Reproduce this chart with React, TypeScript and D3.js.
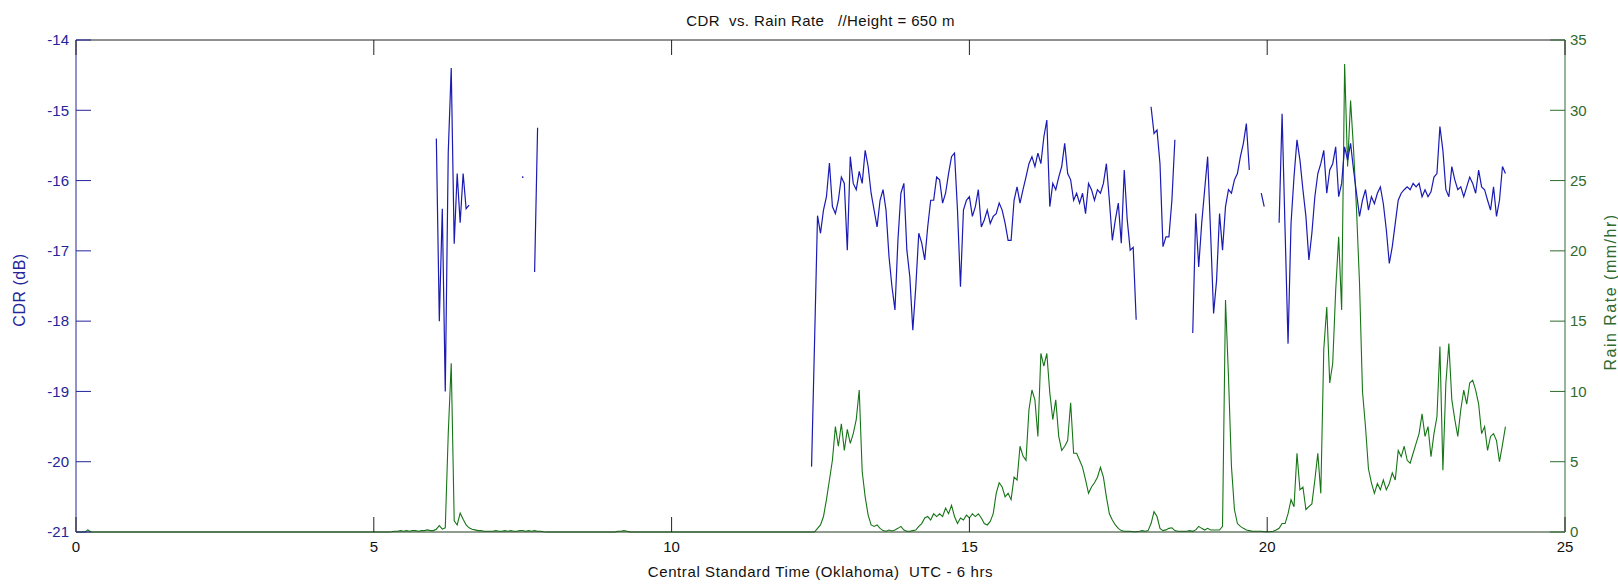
import React from "react";
import * as d3 from "d3";

// ---- data ----
const TIME_STEP = 0.05; // hours between samples
const CDR_START = 6.0;
const RAIN_START = 0.0;

const xTicks = [0, 5, 10, 15, 20, 25];
const cdrTicks = [-21, -20, -19, -18, -17, -16, -15, -14];
const rainTicks = [0, 5, 10, 15, 20, 25, 30, 35];

const N = null;
// CDR (dB), one row per hour, starting at 6.00 h
const cdrValues: (number | null)[] = [
  // 6
  N, -15.4, -18.0, -16.4, -19.0, -15.6, -14.4, -16.9, -15.9, -16.6, -15.9, -16.4, -16.35, N, N, N, N, N, N, N,
  // 7
  N, N, N, N, N, N, N, N, N, N, -15.95, N, N, N, -17.3, -15.25, N, N, N, N,
  // 8
  N, N, N, N, N, N, N, N, N, N, N, N, N, N, N, N, N, N, N, N,
  // 9
  N, N, N, N, N, N, N, N, N, N, N, N, N, N, N, N, N, N, N, N,
  // 10
  N, N, N, N, N, N, N, N, N, N, N, N, N, N, N, N, N, N, N, N,
  // 11
  N, N, N, N, N, N, N, N, N, N, N, N, N, N, N, N, N, N, N, N,
  // 12
  N, N, N, N, N, N, N, -20.07, -18.3, -16.5, -16.75, -16.42, -16.23, -15.75, -16.37, -16.47, -16.28, -15.95, -16.04, -16.99,
  // 13
  -15.66, -16.04, -16.13, -15.87, -16.04, -15.57, -15.8, -16.18, -16.42, -16.66, -16.28, -16.13, -16.42, -17.08, -17.51, -17.84, -16.85, -16.18, -16.04, -16.99,
  // 14
  -17.37, -18.13, -17.51, -16.75, -16.89, -17.13, -16.66, -16.28, -16.28, -15.95, -15.99, -16.32, -16.18, -15.9, -15.66, -15.61, -16.42, -17.51, -16.42, -16.28,
  // 15
  -16.23, -16.51, -16.37, -16.13, -16.66, -16.56, -16.42, -16.61, -16.51, -16.47, -16.32, -16.42, -16.61, -16.85, -16.85, -16.28, -16.09, -16.32, -16.13, -15.95,
  // 16
  -15.76, -15.66, -15.8, -15.61, -15.76, -15.38, -15.14, -16.37, -16.04, -16.13, -15.95, -15.8, -15.47, -15.9, -15.99, -16.28, -16.18, -16.32, -16.18, -16.47,
  // 17
  -16.04, -16.13, -16.28, -16.13, -16.18, -16.04, -15.76, -16.28, -16.85, -16.56, -16.32, -16.89, -15.85, -16.56, -16.99, -16.95, -17.98, N, N, N,
  // 18
  N, -14.95, -15.33, -15.28, -15.76, -16.94, -16.8, -16.8, -16.28, -15.42, N, N, N, N, N, -18.17, -16.47, -17.23, -16.61, -16.13,
  // 19
  -15.66, -16.75, -17.89, -17.42, -16.47, -16.99, -16.37, -16.13, -16.18, -15.99, -15.9, -15.66, -15.47, -15.19, -15.85, N, N, N, -16.18, -16.37,
  // 20
  N, N, N, N, -16.6, -15.05, -16.7, -18.32, -16.61, -15.95, -15.42, -15.71, -16.13, -16.51, -17.13, -16.75, -16.23, -15.9, -15.76, -15.57,
  // 21
  -16.18, -15.85, -15.76, -15.52, -16.23, -16.04, -15.52, -15.71, -15.47, -15.85, -16.18, -16.51, -16.28, -16.13, -16.42, -16.23, -16.33, -16.18, -16.09, -16.33,
  // 22
  -16.7, -17.18, -16.94, -16.61, -16.28, -16.18, -16.13, -16.09, -16.13, -16.04, -16.09, -16.04, -16.23, -16.13, -16.23, -16.16, -15.95, -15.9, -15.23, -15.57,
  // 23
  -16.13, -16.23, -15.8, -15.99, -16.13, -16.09, -16.23, -16.09, -15.95, -16.04, -16.18, -15.85, -16.09, -16.13, -16.28, -16.42, -16.09, -16.51, -16.28, -15.8,
  // 24
  -15.9,
];

// Rain rate (mm/hr), one row per hour, starting at 0.00 h
const rainValues: number[] = [
  // 0
  0, 0, 0, 0, 0.15, 0, 0, 0, 0, 0, 0, 0, 0, 0, 0, 0, 0, 0, 0, 0,
  // 1
  0, 0, 0, 0, 0, 0, 0, 0, 0, 0, 0, 0, 0, 0, 0, 0, 0, 0, 0, 0,
  // 2
  0, 0, 0, 0, 0, 0, 0, 0, 0, 0, 0, 0, 0, 0, 0, 0, 0, 0, 0, 0,
  // 3
  0, 0, 0, 0, 0, 0, 0, 0, 0, 0, 0, 0, 0, 0, 0, 0, 0, 0, 0, 0,
  // 4
  0, 0, 0, 0, 0, 0, 0, 0, 0, 0, 0, 0, 0, 0, 0, 0, 0, 0, 0, 0,
  // 5
  0, 0, 0, 0, 0, 0, 0.02, 0.05, 0.05, 0.1, 0.05, 0.1, 0.05, 0.1, 0.1, 0.05, 0.1, 0.1, 0.15, 0.1,
  // 6
  0.1, 0.2, 0.45, 0.2, 0.3, 7.0, 12.0, 0.8, 0.5, 1.35, 0.9, 0.5, 0.3, 0.2, 0.15, 0.1, 0.1, 0.05, 0.05, 0.05,
  // 7
  0.05, 0.1, 0.05, 0.05, 0.1, 0.05, 0.1, 0.05, 0.05, 0.1, 0.1, 0.05, 0.1, 0.05, 0.1, 0.05, 0.05, 0.02, 0, 0,
  // 8
  0, 0, 0, 0, 0, 0, 0, 0, 0, 0, 0, 0, 0, 0, 0, 0, 0, 0, 0, 0,
  // 9
  0, 0, 0.05, 0.05, 0.1, 0.05, 0, 0, 0, 0, 0, 0, 0, 0, 0, 0, 0, 0, 0, 0,
  // 10
  0, 0, 0, 0, 0, 0, 0, 0, 0, 0, 0, 0, 0, 0, 0, 0, 0, 0, 0, 0,
  // 11
  0, 0, 0, 0, 0, 0, 0, 0, 0, 0, 0, 0, 0, 0, 0, 0, 0, 0, 0, 0,
  // 12
  0, 0, 0, 0, 0, 0, 0, 0, 0, 0.26, 0.5, 1.1, 2.3, 3.7, 5.1, 7.5, 6.1, 7.7, 5.8, 7.3,
  // 13
  6.3, 7.0, 8.0, 10.1, 4.3, 2.5, 1.2, 0.5, 0.4, 0.5, 0.26, 0.1, 0.05, 0.14, 0.07, 0.14, 0.26, 0.4, 0.14, 0.05,
  // 14
  0.05, 0.1, 0.14, 0.4, 0.6, 1.0, 1.1, 0.85, 1.3, 1.1, 1.3, 1.1, 1.7, 1.3, 1.9, 1.1, 0.6, 1.0, 0.85, 1.2,
  // 15
  1.0, 1.3, 1.1, 1.3, 1.0, 0.6, 0.5, 0.75, 1.3, 2.75, 3.5, 3.2, 2.5, 2.75, 2.3, 3.9, 3.7, 6.1, 5.4, 5.1,
  // 16
  8.7, 10.1, 9.4, 6.8, 12.7, 11.8, 12.7, 9.9, 8.0, 9.4, 6.8, 5.8, 6.1, 6.5, 9.2, 5.6, 5.6, 5.1, 4.6, 3.7,
  // 17
  2.75, 3.2, 3.5, 3.9, 4.6, 3.9, 2.5, 1.3, 0.85, 0.5, 0.26, 0.1, 0.05, 0.05, 0.05, 0.02, 0.02, 0.05, 0.1, 0.05,
  // 18
  0.1, 0.6, 1.45, 1.1, 0.26, 0.1, 0.15, 0.26, 0.3, 0.1, 0.05, 0.05, 0.05, 0.05, 0.1, 0.05, 0.15, 0.4, 0.26, 0.14,
  // 19
  0.26, 0.14, 0.14, 0.14, 0.14, 0.4, 16.5, 11.05, 4.65, 1.6, 0.6, 0.4, 0.26, 0.14, 0.1, 0.05, 0.05, 0.05, 0.05, 0.02,
  // 20
  0.02, 0.02, 0.05, 0.14, 0.26, 0.6, 0.6, 1.3, 2.3, 1.8, 5.6, 3.0, 3.2, 1.6, 1.8, 2.0, 3.7, 5.6, 2.75, 13.0,
  // 21
  16.0, 10.6, 12.0, 17.2, 21.0, 15.8, 33.3, 26.0, 30.7, 27.2, 22.9, 17.7, 10.0, 7.5, 4.5, 3.5, 2.75, 3.45, 3.0, 3.7,
  // 22
  3.0, 3.45, 4.2, 3.7, 5.8, 5.35, 6.1, 5.1, 4.9, 5.6, 6.3, 7.0, 8.4, 6.8, 7.5, 5.35, 7.0, 8.2, 13.2, 4.4,
  // 23
  10.6, 13.4, 9.4, 8.0, 6.8, 8.7, 10.1, 9.1, 10.6, 10.8, 10.1, 9.1, 7.0, 7.5, 5.8, 6.8, 7.0, 6.5, 5.0, 6.2,
  // 24
  7.5,
];

// ---- layout ----
const W = 1618;
const H = 586;
const L = 76;
const R = 1565;
const T = 40;
const B = 532;
const TICK = 15;
const FONT = "'Liberation Sans', Arial, Helvetica, sans-serif";
const CDR_COLOR = "#1a1ab4";
const CDR_AXIS = "#24249a";
const RAIN_COLOR = "#167516";
const RAIN_AXIS = "#2f6a2f";

type Pt = { t: number; v: number | null };

export default function App() {
  const x = d3.scaleLinear().domain([0, 25]).range([L, R]);
  const yL = d3.scaleLinear().domain([-21, -14]).range([B, T]);
  const yR = d3.scaleLinear().domain([0, 35]).range([B, T]);

  const cdrPts: Pt[] = cdrValues.map((v, i) => ({ t: CDR_START + i * TIME_STEP, v }));
  const rainPts: Pt[] = rainValues.map((v, i) => ({ t: RAIN_START + i * TIME_STEP, v }));

  const cdrLine = d3
    .line<Pt>()
    .defined((d) => d.v !== null)
    .x((d) => x(d.t))
    .y((d) => yL(d.v as number));
  const rainLine = d3
    .line<Pt>()
    .x((d) => x(d.t))
    .y((d) => yR(d.v as number));

  const isolated = cdrPts.filter(
    (d, i) =>
      d.v !== null &&
      (i === 0 || cdrPts[i - 1].v === null) &&
      (i === cdrPts.length - 1 || cdrPts[i + 1].v === null)
  );

  const midY = (T + B) / 2;

  return (
    <svg
      width={W}
      height={H}
      style={{ position: "absolute", left: 0, top: 0, background: "#fff" }}
      fontFamily={FONT}
    >
      <rect x={0} y={0} width={W} height={H} fill="#fff" />
      {/* data */}
      <path d={rainLine(rainPts) || ""} fill="none" stroke={RAIN_COLOR} strokeWidth={1.1} />
      <path d={cdrLine(cdrPts) || ""} fill="none" stroke={CDR_COLOR} strokeWidth={1.2} />
      {isolated.map((d, i) => (
        <circle key={i} cx={x(d.t)} cy={yL(d.v as number)} r={0.9} fill={CDR_COLOR} />
      ))}

      {/* frame */}
      <line x1={L} x2={R} y1={T} y2={T} stroke="#222" strokeWidth={1} />
      <line x1={L} x2={R} y1={B} y2={B} stroke="#1e3a1e" strokeWidth={1} />
      <line x1={L} x2={L} y1={T} y2={B} stroke={CDR_AXIS} strokeWidth={1} />
      <line x1={R} x2={R} y1={T} y2={B} stroke={RAIN_AXIS} strokeWidth={1} />

      {/* x ticks */}
      {xTicks.map((t) => (
        <g key={"x" + t}>
          <line x1={x(t)} x2={x(t)} y1={B} y2={B - TICK} stroke="#222" />
          <line x1={x(t)} x2={x(t)} y1={T} y2={T + TICK} stroke="#222" />
          <text x={x(t)} y={552} textAnchor="middle" fontSize={15} fill="#111">
            {t}
          </text>
        </g>
      ))}

      {/* left ticks */}
      {cdrTicks.map((v) => (
        <g key={"l" + v}>
          <line x1={L} x2={L + TICK} y1={yL(v)} y2={yL(v)} stroke={CDR_AXIS} />
          <text x={69} y={yL(v)} dy="0.35em" textAnchor="end" fontSize={15} fill={CDR_AXIS}>
            {v}
          </text>
        </g>
      ))}

      {/* right ticks */}
      {rainTicks.map((v) => (
        <g key={"r" + v}>
          <line x1={R - TICK} x2={R} y1={yR(v)} y2={yR(v)} stroke={RAIN_AXIS} />
          <text x={1570} y={yR(v)} dy="0.35em" textAnchor="start" fontSize={15} fill={RAIN_AXIS}>
            {v}
          </text>
        </g>
      ))}

      {/* titles */}
      <text x={(L + R) / 2} y={26} textAnchor="middle" fontSize={15} fill="#111" style={{ whiteSpace: "pre" }} letterSpacing={0.4}>
        {"CDR  vs. Rain Rate   //Height = 650 m"}
      </text>
      <text x={(L + R) / 2} y={577} textAnchor="middle" fontSize={15} fill="#111" style={{ whiteSpace: "pre" }} letterSpacing={0.6}>
        {"Central Standard Time (Oklahoma)  UTC - 6 hrs"}
      </text>
      <text transform={`translate(25, ${midY + 4}) rotate(-90)`} textAnchor="middle" fontSize={16} letterSpacing={0.5} fill={CDR_AXIS}>
        CDR (dB)
      </text>
      <text transform={`translate(1616, ${midY + 6}) rotate(-90)`} textAnchor="middle" fontSize={16} letterSpacing={1.5} fill={RAIN_AXIS}>
        Rain Rate (mm/hr)
      </text>
    </svg>
  );
}
